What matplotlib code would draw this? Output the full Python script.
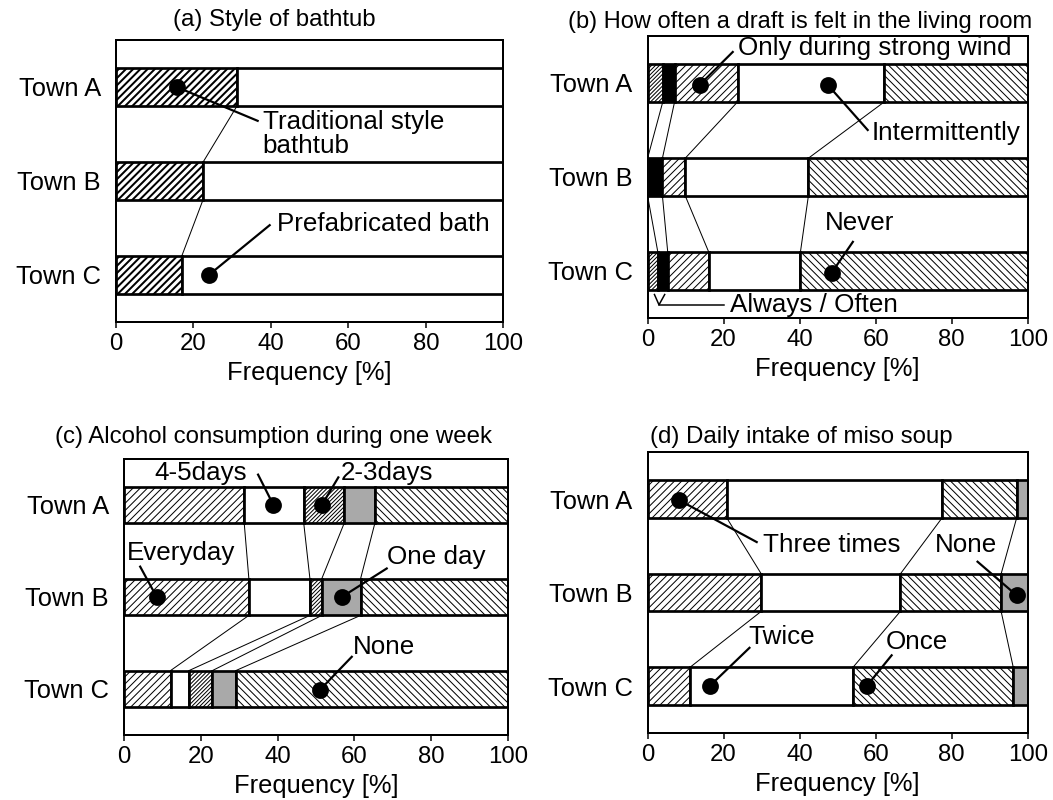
import numpy as np
import matplotlib
matplotlib.use('Agg')
from matplotlib import pyplot as plt

plt.rcParams['font.family'] = ['Liberation Sans', 'DejaVu Sans']

# 数据
towns = ['Town A', 'Town B', 'Town C']

# (a) style of bathtub
bath_traditional = [31.3, 22.5, 17.0]
bath_prefab = [68.7, 77.5, 83.0]

# (b) draft in the living room
draft_always = [4.0, 0.0, 2.7]
draft_often = [3.1, 3.9, 2.6]
draft_strong_wind = [16.6, 6.0, 10.8]
draft_intermittent = [38.6, 32.4, 24.1]
draft_never = [37.7, 57.7, 59.8]

# (c) alcohol during one week
alc_everyday = [31.3, 32.5, 12.1]
alc_4_5days = [15.5, 15.9, 4.8]
alc_2_3days = [10.5, 3.1, 6.1]
alc_one_day = [8.0, 10.1, 6.1]
alc_none = [34.7, 38.4, 70.9]

# (d) miso soup
miso_three = [20.8, 29.9, 11.1]
miso_twice = [56.7, 36.6, 42.9]
miso_once = [19.6, 26.5, 42.2]
miso_none = [2.9, 7.0, 3.8]

DPI = 130
BAR_H = 0.4
GREY = '#a9a9a9'
FWD = '/' * 6
BACK = '\\' * 6
DENSE = '/' * 11


def px(p):
    # 像素 -> 磅
    return p * 72.0 / DPI


# 画一个面板
def draw(ax, segments, styles, hatch_lw):
    y = np.arange(len(towns))
    left = np.zeros(len(towns))
    with plt.rc_context({'hatch.linewidth': hatch_lw}):
        for vals, (fc, hatch) in zip(segments, styles):
            ax.barh(y, vals, left=left, height=BAR_H, color=fc, hatch=hatch,
                    edgecolor='black', linewidth=px(2.7), zorder=2)
            left = left + np.array(vals)
    # 各段之间的连线
    bounds = np.cumsum(np.array(segments), axis=0)[:-1]
    for b in bounds:
        for i in range(len(towns) - 1):
            ax.plot([b[i], b[i + 1]], [i + BAR_H / 2, i + 1 - BAR_H / 2],
                    color='black', lw=px(1.0), zorder=1)
    ax.set_xlim(0, 100)
    ax.set_ylim(2.5, -0.5)
    ax.set_yticks(y, towns, fontsize=px(25.5))
    ax.set_xticks(range(0, 101, 20))
    ax.tick_params(axis='x', direction='out', length=px(6), width=px(1.5),
                   labelsize=px(24), pad=px(5))
    ax.tick_params(axis='y', length=0, pad=px(15))
    for s in ax.spines.values():
        s.set_linewidth(px(2))
    ax.set_xlabel('Frequency [%]', fontsize=px(25.5), labelpad=px(6))


# 标注：圆点 + 引线 + 文字
def note(ax, text, dot, end, pos, ha='left'):
    ax.plot(dot[0], dot[1], 'o', color='black', ms=px(15), zorder=5)
    ax.plot([dot[0], end[0]], [dot[1], end[1]], color='black', lw=px(2.2), zorder=5)
    ax.text(pos[0], pos[1], text, ha=ha, va='center', fontsize=px(26),
            linespacing=1.0, zorder=6)


fig = plt.figure(figsize=(1053 / DPI, 800 / DPI), dpi=DPI)

ax_a = fig.add_axes([0.110, 0.5975, 0.368, 0.3525])
ax_b = fig.add_axes([0.615, 0.6025, 0.361, 0.3525])
ax_c = fig.add_axes([0.1178, 0.08125, 0.3647, 0.345])
ax_d = fig.add_axes([0.615, 0.08375, 0.361, 0.351])

draw(ax_a, [bath_traditional, bath_prefab],
     [('white', FWD), ('white', '')], px(2.0))
draw(ax_b, [draft_always, draft_often, draft_strong_wind, draft_intermittent, draft_never],
     [('white', DENSE), ('black', ''), ('white', FWD), ('white', ''), ('white', BACK)],
     px(1.0))
draw(ax_c, [alc_everyday, alc_4_5days, alc_2_3days, alc_one_day, alc_none],
     [('white', FWD), ('white', ''), ('white', DENSE), (GREY, ''), ('white', BACK)],
     px(1.0))
draw(ax_d, [miso_three, miso_twice, miso_once, miso_none],
     [('white', FWD), ('white', ''), ('white', BACK), (GREY, '')],
     px(1.0))

# 标题
fig.text(0.1645, 0.975, '(a) Style of bathtub', fontsize=px(24), va='center')
fig.text(0.539, 0.9725, '(b) How often a draft is felt in the living room', fontsize=px(23.6), va='center')
fig.text(0.052, 0.454, '(c) Alcohol consumption during one week', fontsize=px(24), va='center')
fig.text(0.617, 0.454, '(d) Daily intake of miso soup', fontsize=px(24), va='center')

# (a) 标注
note(ax_a, 'Traditional style\nbathtub', (15.7, 0.0), (36.6, 0.36), (37.9, 0.5))
note(ax_a, 'Prefabricated bath', (24.0, 2.0), (39.7, 1.47), (41.5, 1.46))

# (b) 标注
note(ax_b, 'Only during strong wind', (13.7, 0.02), (22.4, -0.33), (23.7, -0.37))
note(ax_b, 'Intermittently', (47.4, 0.02), (57.9, 0.5), (59.0, 0.53))
note(ax_b, 'Never', (48.4, 2.02), (54.0, 1.69), (55.8, 1.49), ha='center')
ax_b.plot([1.8, 3.0, 4.5], [2.25, 2.36, 2.25], color='black', lw=px(1.5))
ax_b.plot([3.0, 20.0], [2.36, 2.36], color='black', lw=px(1.5))
ax_b.text(21.6, 2.36, 'Always / Often', ha='left', va='center', fontsize=px(26))

# (c) 标注
note(ax_c, '4-5days', (38.9, 0.0), (34.9, -0.33), (20.0, -0.35), ha='center')
note(ax_c, '2-3days', (51.5, 0.0), (55.8, -0.3), (56.3, -0.35))
note(ax_c, 'Everyday', (8.5, 1.0), (4.2, 0.67), (14.8, 0.52), ha='center')
note(ax_c, 'One day', (56.7, 1.0), (68.4, 0.69), (81.4, 0.56), ha='center')
note(ax_c, 'None', (51.0, 2.01), (59.3, 1.65), (67.7, 1.54), ha='center')

# (d) 标注
note(ax_d, 'Three times', (8.2, 0.01), (28.7, 0.46), (30.3, 0.49))
note(ax_d, 'None', (97.1, 1.03), (86.8, 0.67), (83.7, 0.49), ha='center')
note(ax_d, 'Twice', (16.3, 2.0), (26.8, 1.59), (35.3, 1.47), ha='center')
note(ax_d, 'Once', (57.6, 2.0), (64.2, 1.67), (70.8, 1.53), ha='center')

fig.savefig('out.png', dpi=DPI)
